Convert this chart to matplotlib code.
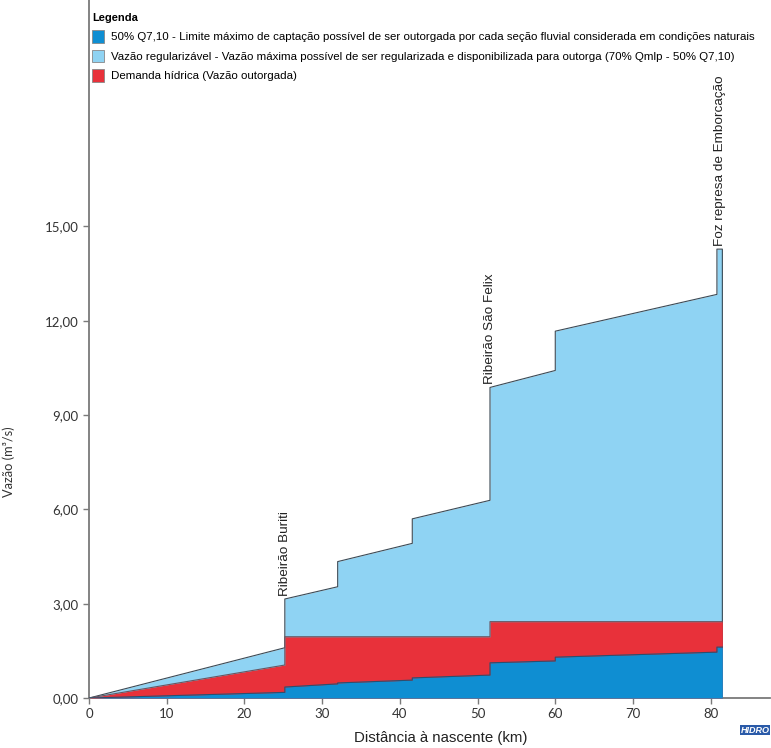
import matplotlib
matplotlib.use("Agg")
import matplotlib.pyplot as plt
from matplotlib.patches import Patch
from matplotlib.ticker import FuncFormatter

# distance from the source (km) at each break of the step profile
dist_km = [0, 25.2, 25.2, 32.0, 32.0, 41.6, 41.6, 51.6, 51.6, 60.0, 60.0, 80.8, 80.8, 81.5]

# flows (m3/s) along the river
vazao_regularizavel = [0, 1.60, 3.15, 3.54, 4.34, 4.92, 5.70, 6.29, 9.88, 10.42, 11.67, 12.84, 14.28, 14.28]
demanda_hidrica = [0, 1.05, 1.95, 1.95, 1.95, 1.95, 1.95, 1.95, 2.43, 2.43, 2.43, 2.43, 2.43, 2.43]
q710_50 = [0, 0.18, 0.35, 0.45, 0.48, 0.57, 0.64, 0.73, 1.12, 1.18, 1.30, 1.46, 1.62, 1.62]

# tributaries / reference points
pontos_nome = ["Ribeirão Buriti", "Ribeirão São Felix", "Foz represa de Emborcação"]
pontos_km = [25.2, 51.6, 81.15]
pontos_vazao = [3.15, 9.88, 14.28]

legenda_labels = [
    "50% Q7,10 - Limite máximo de captação possível de ser outorgada por cada seção fluvial considerada em condições naturais",
    "Vazão regularizável - Vazão máxima possível de ser regularizada e disponibilizada para outorga (70% Qmlp - 50% Q7,10)",
    "Demanda hídrica (Vazão outorgada)",
]

cor_azul = "#0f8ed2"
cor_azul_claro = "#8fd3f3"
cor_vermelho = "#e8313a"
cor_borda = "#3c4a55"

plt.rcParams["font.family"] = ["Liberation Sans", "DejaVu Sans"]

fig = plt.figure(figsize=(7.71, 7.48), dpi=100)
ax = fig.add_axes([0.1154, 0.0668, 0.883, 0.933])

# stacked by drawing order: light blue behind, then red, then dark blue
ax.fill_between(dist_km, vazao_regularizavel, 0, color=cor_azul_claro, lw=0, zorder=1)
ax.plot(dist_km + [dist_km[-1]], vazao_regularizavel + [0], color=cor_borda, lw=0.8, zorder=2)
ax.fill_between(dist_km, demanda_hidrica, 0, color=cor_vermelho, lw=0, zorder=3)
ax.plot(dist_km, demanda_hidrica, color="#6a5560", lw=0.8, zorder=4)
ax.fill_between(dist_km, q710_50, 0, color=cor_azul, lw=0, zorder=5)
ax.plot(dist_km, q710_50, color="#2a4f70", lw=0.8, zorder=6)

for nome, km, v in zip(pontos_nome, pontos_km, pontos_vazao):
    ax.text(km, v + 0.1, nome, rotation=90, ha="center", va="bottom",
            fontsize=9.7, color="#222222", zorder=7)

ax.set_xlim(0, 87.6)
ax.set_ylim(0, 22.2)
ax.set_xticks(range(0, 81, 10))
ax.set_yticks([0, 3, 6, 9, 12, 15])
ax.yaxis.set_major_formatter(FuncFormatter(lambda v, p: f"{v:.2f}".replace(".", ",")))

for s in ["top", "right"]:
    ax.spines[s].set_visible(False)
for s in ["left", "bottom"]:
    ax.spines[s].set_color("#7a7a7a")
    ax.spines[s].set_linewidth(1.3)
ax.tick_params(axis="both", length=4, width=1, color="#7a7a7a",
               labelsize=9.5, labelcolor="#333333")
for lab in ax.get_xticklabels() + ax.get_yticklabels():
    lab.set_family("Lato")

ax.set_xlabel("Distância à nascente (km)", fontsize=10.8, color="#222222")
ax.xaxis.set_label_coords(0.516, -0.047)
ax.set_ylabel("Vazão (m³/s)", fontsize=9.2, color="#333333", family="Lato")
ax.yaxis.set_label_coords(-0.108, 0.338)

handles = [
    Patch(facecolor=cor_azul, edgecolor="#888888", lw=0.6),
    Patch(facecolor=cor_azul_claro, edgecolor="#888888", lw=0.6),
    Patch(facecolor=cor_vermelho, edgecolor="#888888", lw=0.6),
]
leg = ax.legend(handles, legenda_labels, loc="upper left", bbox_to_anchor=(-0.002, 0.988),
                frameon=False, fontsize=8.25, title="Legenda", alignment="left",
                title_fontproperties={"weight": "bold", "size": 8},
                handlelength=1.0, handleheight=1.3, handletextpad=0.6,
                labelspacing=0.62, borderpad=0.2, borderaxespad=0.2)

# small logo mark at the bottom right
fig.text(0.998, 0.024, "HIDRO", ha="right", va="center", fontsize=6.5,
         fontweight="bold", style="italic", color="white",
         bbox=dict(facecolor="#2a5aa8", edgecolor="none", pad=0.6))

fig.savefig("out.png", dpi=100)
